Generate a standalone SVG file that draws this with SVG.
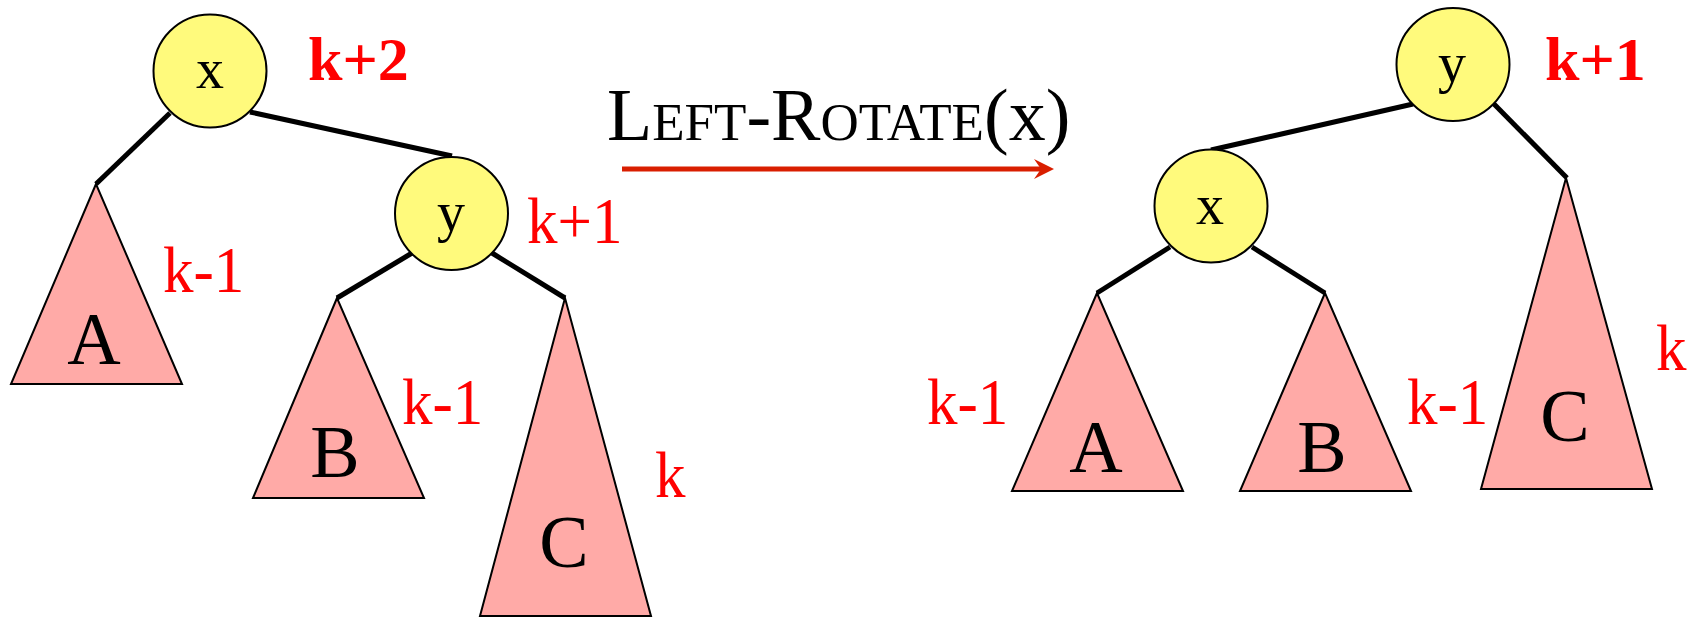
<svg xmlns="http://www.w3.org/2000/svg" width="1708" height="617" viewBox="0 0 1708 617">
<style>
.node{fill:#fffa7c;stroke:#000;stroke-width:2}
.tri{fill:#ffaaa7;stroke:#000;stroke-width:2;stroke-linejoin:miter}
.edge{stroke:#000;stroke-width:5;fill:none}
.lbl{font-family:"Liberation Serif","Times New Roman",serif;fill:#000}
.nl{font-size:56px;text-anchor:middle}
.tl{font-size:74px;text-anchor:middle}
.h{font-family:"Liberation Serif","Times New Roman",serif;fill:#ff0000;font-size:61px}
.hb{font-weight:bold;font-size:62px}
</style>
<rect width="1708" height="617" fill="#fff"/>
<g id="connectors">
<line class="edge" x1="170" y1="113" x2="96" y2="184"/>
<line class="edge" x1="250" y1="112" x2="452" y2="156"/>
<line class="edge" x1="412" y1="253" x2="337" y2="298"/>
<line class="edge" x1="492" y1="253" x2="565" y2="298"/>
<line class="edge" x1="1413" y1="104" x2="1211" y2="150"/>
<line class="edge" x1="1494" y1="104" x2="1567" y2="178"/>
<line class="edge" x1="1170" y1="247" x2="1097" y2="293"/>
<line class="edge" x1="1252" y1="247" x2="1325" y2="293"/>
<g id="rotate-arrow">
<line x1="622" y1="169" x2="1042" y2="169" stroke="#d91e00" stroke-width="5"/>
<polygon points="1054,169 1034,159 1041,169 1034,179" fill="#d91e00"/>
</g>
</g>
<g id="left-x"><circle class="node" cx="210" cy="71" r="56.5"/><text class="lbl nl" x="210" y="88">x</text><text class="h hb" x="308" y="80">k+2</text></g>
<g id="left-y"><circle class="node" cx="451.5" cy="213.5" r="56.5"/><text class="lbl nl" x="451" y="231">y</text><text class="h" transform="translate(527,243) scale(1,1.09)">k+1</text></g>
<g id="left-A"><polygon class="tri" points="96,184 11,384 182,384"/><text class="lbl tl" x="94" y="364">A</text><text class="h" transform="translate(163,292) scale(1,1.09)">k-1</text></g>
<g id="left-B"><polygon class="tri" points="337,298 253,498 424,498"/><text class="lbl tl" x="335" y="477">B</text><text class="h" transform="translate(402,424) scale(1,1.09)">k-1</text></g>
<g id="left-C"><polygon class="tri" points="565,298 480,616 651,616"/><text class="lbl tl" x="564" y="567">C</text><text class="h" transform="translate(655,497) scale(1,1.09)">k</text></g>
<g id="title"><text class="lbl" x="607" y="140" font-size="74">L<tspan font-size="53">EFT</tspan>-R<tspan font-size="53">OTATE</tspan>(x)</text></g>
<g id="right-y"><circle class="node" cx="1453" cy="64.5" r="56.5"/><text class="lbl nl" x="1452" y="82">y</text><text class="h hb" x="1545" y="80">k+1</text></g>
<g id="right-x"><circle class="node" cx="1211" cy="206" r="56.5"/><text class="lbl nl" x="1210" y="224">x</text></g>
<g id="right-A"><polygon class="tri" points="1097,293 1012,491 1183,491"/><text class="lbl tl" x="1096" y="472">A</text><text class="h" transform="translate(927,424) scale(1,1.09)">k-1</text></g>
<g id="right-B"><polygon class="tri" points="1325,293 1240,491 1411,491"/><text class="lbl tl" x="1322" y="472">B</text><text class="h" transform="translate(1407,424) scale(1,1.09)">k-1</text></g>
<g id="right-C"><polygon class="tri" points="1566,178 1481,489 1652,489"/><text class="lbl tl" x="1565" y="441">C</text><text class="h" transform="translate(1656,370) scale(1,1.09)">k</text></g>
</svg>
